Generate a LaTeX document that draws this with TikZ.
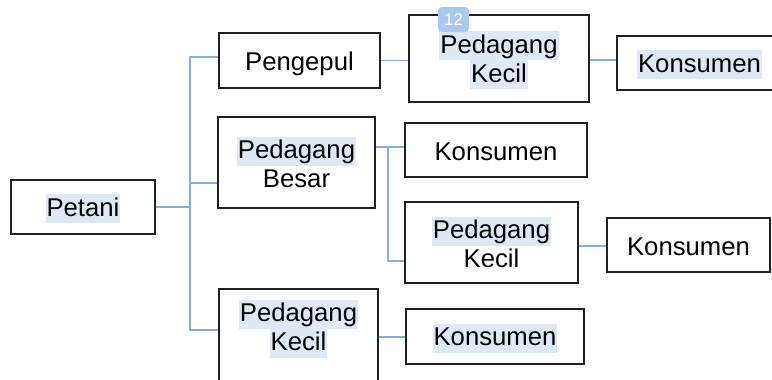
\documentclass[tikz,border=0pt]{standalone}
\usepackage{fontspec}
\setmainfont{Liberation Sans}
\definecolor{linkblue}{HTML}{84AEE0}
\definecolor{hlblue}{HTML}{DFE9F6}
\definecolor{badgeblue}{HTML}{A9C9F0}
\newcommand{\linestrut}{\rule[-3.7pt]{0pt}{29pt}}
\newcommand{\hl}[1]{\linestrut{\setlength{\fboxsep}{0pt}\colorbox{hlblue}{\rule[-7.3pt]{0pt}{29pt}\kern1pt#1\kern1pt}}}
\newcommand{\pl}[1]{\linestrut#1}
\begin{document}
\begin{tikzpicture}[x=1pt, y=-1pt,
    font={\fontsize{25.7}{29}\selectfont\lineskiplimit=-100pt},
    box/.style={draw=black!88, line width=2.4pt, align=center, inner sep=0pt},
    link/.style={draw=linkblue, line width=1.3pt}]
    \useasboundingbox (0,0) rectangle (772,380);
    \clip (0,0) rectangle (772,380);

    \def\tx{190}
    \def\fx{388}

    \node[box, minimum width=144, minimum height=54] (petani) at (83,207) {\hl{Petani}};

    \node[box, minimum width=161, minimum height=55] (peng) at (299.5,60.5) {\pl{Pengepul}};
    \node[box, minimum width=157, minimum height=91] (pbesar) at (296.5,162.5) {\hl{Pedagang}\\\pl{Besar}};
    \node[box, minimum width=159, minimum height=103] (pkecilB) at (298.5,340.5) {\hl{Pedagang}\\\hl{Kecil}\rule[-34pt]{0pt}{34pt}};

    \node[box, minimum width=180, minimum height=87] (pkecilA) at (499,58.5) {\hl{Pedagang}\\\hl{Kecil}};
    \node[box, minimum width=182, minimum height=54] (konsB) at (496,150) {\pl{Konsumen}};
    \node[box, minimum width=173, minimum height=81] (pkecilC) at (491.5,242.5) {\hl{Pedagang}\\\pl{Kecil}};
    \node[box, minimum width=178, minimum height=55] (konsD) at (495,336.5) {\hl{Konsumen}};

    \node[box, minimum width=165, minimum height=54] (konsA) at (699.5,63) {\hl{Konsumen}};
    \node[box, minimum width=163, minimum height=54] (konsC) at (688.5,245) {\pl{Konsumen}};

    \coordinate (ttop) at (\tx,57);
    \coordinate (tmid) at (\tx,183);
    \coordinate (tbot) at (\tx,330);
    \coordinate (ftop) at (\fx,147);
    \coordinate (fbot) at (\fx,261);

    \draw[link] (petani.east) -- (petani.east -| ttop);
    \draw[link] (peng.west |- ttop) -- (ttop) -- (tbot) -- (pkecilB.west |- tbot);
    \draw[link] (pbesar.west |- tmid) -- (tmid);

    \draw[link] (peng.east) -- (peng.east -| pkecilA.west);
    \draw[link] (pkecilA.east |- 0,60) -- (konsA.west |- 0,60);
    \draw[link] (pbesar.east |- ftop) -- (konsB.west |- ftop);
    \draw[link] (ftop) -- (fbot) -- (pkecilC.west |- fbot);
    \draw[link] (pkecilC.east |- 0,246) -- (konsC.west |- 0,246);
    \draw[link] (pkecilB.east |- 0,337) -- (konsD.west |- 0,337);

    \node[fill=badgeblue, rounded corners=4pt, minimum width=31, minimum height=25, inner sep=0pt,
        text=white!90!badgeblue, font=\fontsize{17}{19}\selectfont] (badge) at (453.5,19.5) {12};
\end{tikzpicture}
\end{document}
